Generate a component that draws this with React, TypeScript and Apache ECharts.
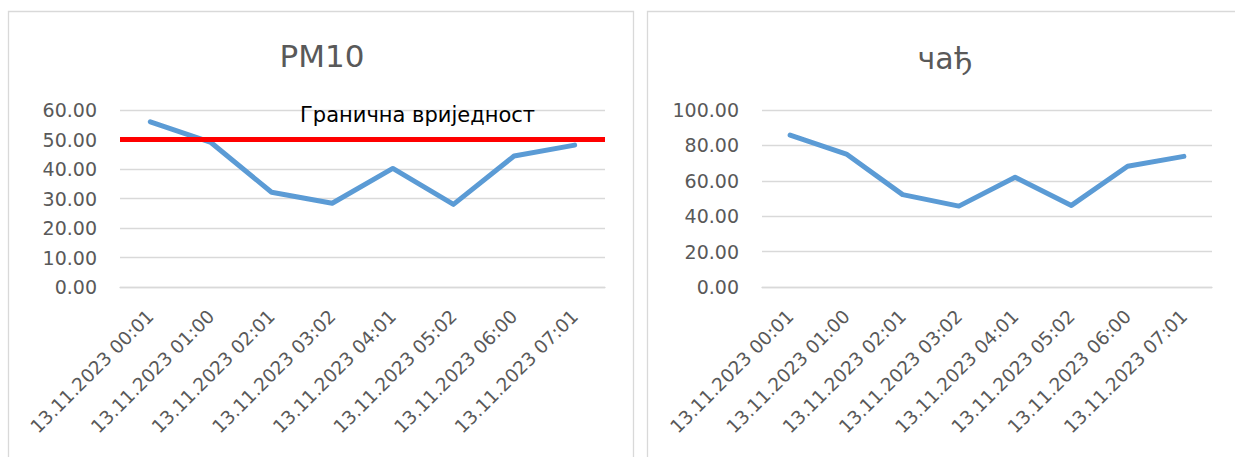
import React, { useEffect, useRef } from "react";
import * as echarts from "echarts";

const categories = [
  "13.11.2023 00:01",
  "13.11.2023 01:00",
  "13.11.2023 02:01",
  "13.11.2023 03:02",
  "13.11.2023 04:01",
  "13.11.2023 05:02",
  "13.11.2023 06:00",
  "13.11.2023 07:01",
];
const pm10Values = [56.0, 49.0, 32.1, 28.4, 40.2, 28.0, 44.4, 48.1];
const sootValues = [85.8, 75.1, 52.2, 45.7, 62.0, 46.1, 68.2, 73.8];
const pm10Limit = 50;
const titles = ["PM10", "чађ"];
const limitLabel = "Гранична вриједност";

const FONT = "'DejaVu Sans', sans-serif";
const TXT = "#595959";
const GRID = "#D9D9D9";
const BLUE = "#5B9BD5";

export default function App() {
  const ref = useRef<HTMLDivElement>(null);
  useEffect(() => {
    if (!ref.current) return;
    const chart = echarts.init(ref.current, null, { renderer: "svg" });
    const yAxisCommon = {
      type: "value",
      axisLine: { show: false },
      axisTick: { show: false },
      axisLabel: {
        color: TXT,
        fontSize: 19,
        fontFamily: FONT,
        margin: 23,
        formatter: (v: number) => v.toFixed(2),
      },
      splitLine: { lineStyle: { color: GRID, width: 1.3 } },
    };
    const xAxisCommon = {
      type: "category",
      data: categories,
      boundaryGap: true,
      axisLine: { show: true, lineStyle: { color: GRID, width: 1.3 } },
      axisTick: { show: false },
      axisLabel: {
        color: TXT,
        fontSize: 18.5,
        fontFamily: FONT,
        rotate: 45,
        interval: 0,
        margin: 26,
      },
    };
    chart.setOption({
      animation: false,
      backgroundColor: "#ffffff",
      grid: [
        { left: 120, right: 630, top: 110, bottom: 170 },
        { left: 762, right: 23, top: 110, bottom: 170 },
      ],
      xAxis: [
        { ...xAxisCommon, gridIndex: 0 },
        { ...xAxisCommon, gridIndex: 1 },
      ],
      yAxis: [
        { ...yAxisCommon, gridIndex: 0, min: 0, max: 60, interval: 10 },
        { ...yAxisCommon, gridIndex: 1, min: 0, max: 100, interval: 20 },
      ],
      graphic: [
        {
          type: "rect",
          shape: { x: 8.5, y: 11.5, width: 625, height: 460 },
          style: { fill: "none", stroke: GRID, lineWidth: 1.3 },
          silent: true,
          z: -1,
        },
        {
          type: "rect",
          shape: { x: 647.5, y: 11.5, width: 600, height: 460 },
          style: { fill: "none", stroke: GRID, lineWidth: 1.3 },
          silent: true,
          z: -1,
        },
        {
          type: "text",
          x: 322,
          y: 56,
          style: {
            text: titles[0],
            fill: TXT,
            fontSize: 31,
            fontFamily: FONT,
            textAlign: "center",
            textVerticalAlign: "middle",
          },
        },
        {
          type: "text",
          x: 945,
          y: 58,
          style: {
            text: titles[1],
            fill: TXT,
            fontSize: 30,
            fontFamily: FONT,
            textAlign: "center",
            textVerticalAlign: "middle",
          },
        },
        {
          type: "text",
          x: 300,
          y: 115,
          style: {
            text: limitLabel,
            fill: "#000000",
            fontSize: 21,
            fontFamily: FONT,
            textAlign: "left",
            textVerticalAlign: "middle",
          },
          z: 10,
        },
      ],
      series: [
        {
          type: "line",
          xAxisIndex: 0,
          yAxisIndex: 0,
          data: pm10Values,
          symbol: "none",
          lineStyle: { color: BLUE, width: 5, cap: "round", join: "round" },
          z: 3,
          markLine: {
            silent: true,
            symbol: "none",
            label: { show: false },
            lineStyle: { color: "#FF0000", width: 5, type: "solid" },
            data: [{ yAxis: pm10Limit }],
            z: 4,
          },
        },
        {
          type: "line",
          xAxisIndex: 1,
          yAxisIndex: 1,
          data: sootValues,
          symbol: "none",
          lineStyle: { color: BLUE, width: 5, cap: "round", join: "round" },
        },
      ],
    });
    return () => chart.dispose();
  }, []);
  return (
    <div
      ref={ref}
      style={{ position: "fixed", left: 0, top: 0, width: 1235, height: 457, background: "#fff" }}
    />
  );
}
